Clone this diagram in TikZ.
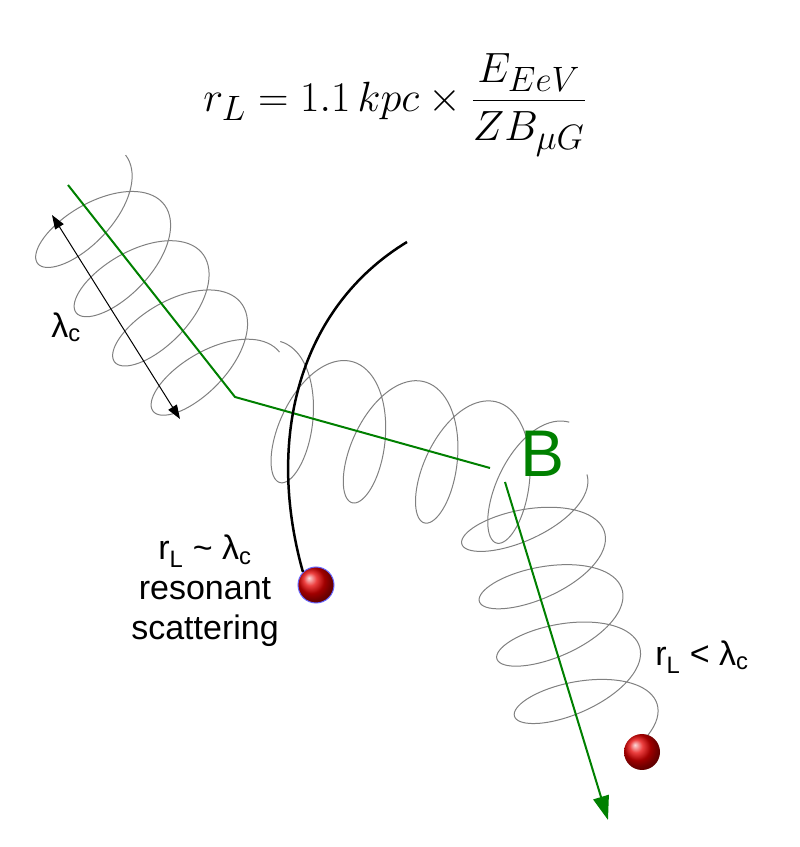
\documentclass[tikz,border=0pt]{standalone}
\usepackage{fontspec}
\setsansfont{Liberation Sans}
\usepackage{tikz}
\usetikzlibrary{arrows.meta}
\tikzset{
  field/.style={draw=green!50!black, line width=2pt},
  coil/.style={draw=gray, line width=1pt, smooth, samples=300},
  lab/.style={font=\sffamily\fontsize{34}{40}\selectfont, align=center},
  ball/.style={circle, minimum size=36pt, inner sep=0pt, ball color=red!90!black}
}
\begin{document}
\begin{tikzpicture}[x=1pt,y=1pt]
  \useasboundingbox (0,0) rectangle (800,847);
  % helix coils along the three field pieces
  \foreach \sx/\sy/\ang/\len/\rr/\aa/\dd in {72/650/-52/250/68/34/1440, 262/440/-15.6/300/68/34/1440, 520/352/-73/240/70/30/1490}{
    \begin{scope}[shift={(\sx,\sy)}, rotate=\ang]
      \draw[coil] plot[domain=0:\dd] ({\x/1440*\len + \aa*sin(\x)}, {\rr*cos(\x)});
    \end{scope}
  }
  % field lines
  \coordinate (f0) at (68,662);
  \coordinate (f1) at (235,450);
  \coordinate (f2) at (490,379);
  \coordinate (f3) at (505,365);
  \coordinate (f4) at (608,27);
  \draw[field] (f0) -- (f1) -- (f2);
  \draw[field, -{Triangle[width=16pt,length=24pt]}] (f3) -- (f4);
  \node[text=green!50!black, font=\sffamily\fontsize{66}{72}\selectfont] (B) at (543,393) {B};
  % coherence length
  \coordinate (l0) at (52,632);
  \coordinate (l1) at (180,428);
  \draw[{Triangle[width=10pt,length=14pt]}-{Triangle[width=10pt,length=14pt]}, line width=1pt] (l0) -- (l1);
  \node[lab] (lc) at (66,520) {λ\textsubscript{c}};
  % resonant particle
  \node[ball, draw=blue!60, line width=1pt, shading=ball] (p1) at (316,262) {};
  \draw[line width=2.5pt] (407,605) .. controls (300,540) and (265,410) .. (p1.north west);
  \node[lab] (res) at (205,256) {r\textsubscript{L} \textasciitilde\ λ\textsubscript{c}\\resonant\\scattering};
  % small radius particle
  \node[ball] (p2) at (642,95) {};
  \node[lab] (small) at (702,190) {r\textsubscript{L} < λ\textsubscript{c}};
  % formula
  \node[scale=1.7] (eq) at (395,742) {\Huge$\displaystyle r_L = 1.1\,kpc \times \frac{E_{EeV}}{ZB_{\mu G}}$};
\end{tikzpicture}
\end{document}
